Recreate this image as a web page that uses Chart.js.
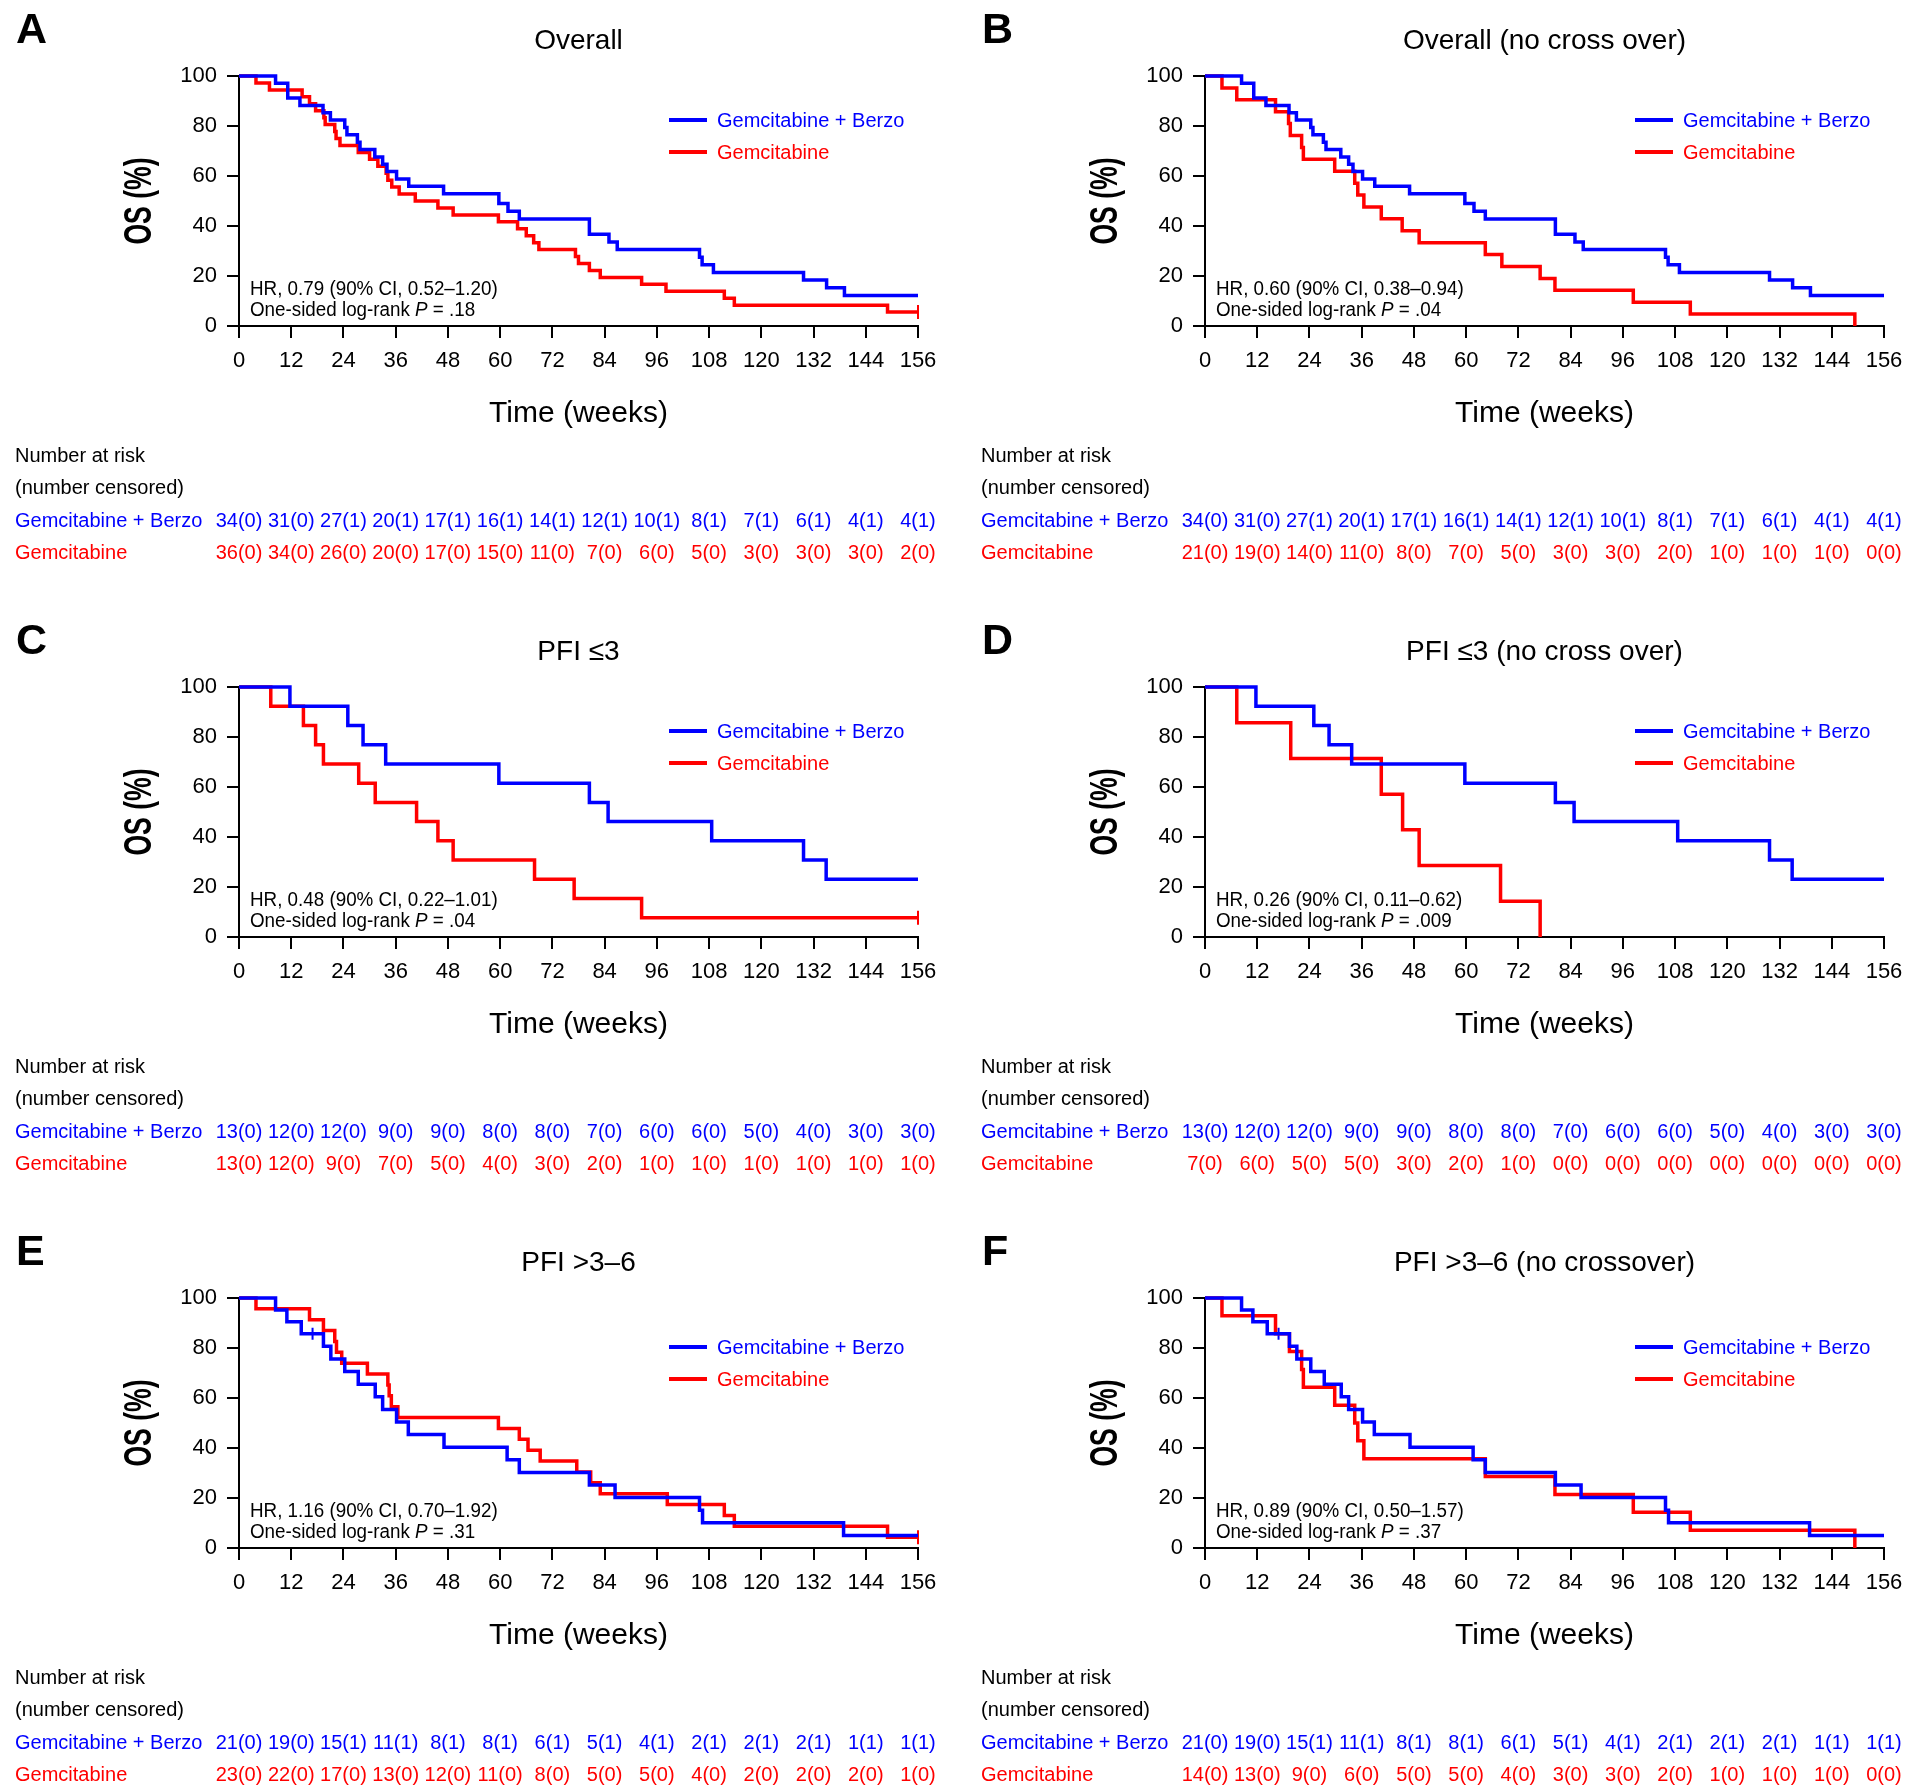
<!DOCTYPE html>
<html>
<head>
<meta charset="utf-8">
<script src="https://cdn.jsdelivr.net/npm/chart.js@4.4.1/dist/chart.umd.min.js"></script>
<style>
  html, body { margin: 0; padding: 0; background: #fff; }
  #wrap { position: relative; width: 1920px; height: 1787px; overflow: hidden; }
  #wrap canvas { position: absolute; }
</style>
</head>
<body>
<div id="wrap"></div>
<script>
const FONT = '"Liberation Sans", Arial, Helvetica, sans-serif';
const BLUE = '#0000ff';
const RED = '#ff0000';

// axis ticks
const weekTicks = [0, 12, 24, 36, 48, 60, 72, 84, 96, 108, 120, 132, 144, 156];
const osTicks = [0, 20, 40, 60, 80, 100];

// Overall, Gemcitabine + Berzo (same curve in A and B)
const allBerzoWeeks = [0, 8.4, 11.2, 14, 19.3, 21, 24.3, 24.8, 27.2, 27.8, 31.2, 33, 34, 36.2, 39, 47, 59.7, 61.8, 64.4, 80.5, 85, 86.9, 105.8, 106.4, 109, 129.7, 135, 139.1, 156];
const allBerzoOS = [100, 97.1, 91.2, 88.2, 85.3, 82.4, 79.4, 76.5, 73.5, 70.6, 67.6, 64.7, 61.8, 58.8, 55.9, 52.9, 49.0, 45.9, 42.8, 36.7, 33.6, 30.6, 27.5, 24.5, 21.4, 18.4, 15.3, 12.2, 12.2];
// Overall, Gemcitabine
const allGemWeeks = [0, 3.9, 7, 14.5, 16.2, 17.6, 19.5, 19.8, 22, 22.3, 23.2, 27.4, 30, 31.9, 33.8, 34.2, 35.1, 36.8, 40.5, 45.7, 49.2, 59.6, 64, 66, 67.7, 68.9, 77.3, 78, 80.5, 83, 92.5, 98.1, 111.5, 113.8, 149, 156];
const allGemOS = [100, 97.2, 94.4, 91.7, 88.9, 86.1, 83.3, 80.6, 77.8, 75.0, 72.2, 69.4, 66.7, 63.9, 61.1, 58.3, 55.6, 52.8, 50.0, 47.2, 44.4, 41.7, 38.9, 36.1, 33.3, 30.6, 27.8, 25.0, 22.2, 19.4, 16.7, 13.9, 11.1, 8.3, 5.6, 5.6];
// Overall (no cross over), Gemcitabine
const allNcGemWeeks = [0, 3.9, 7.3, 16.2, 19.2, 19.6, 22.2, 22.6, 29.8, 34.4, 35.1, 36.5, 40.5, 45.3, 49.2, 64.4, 68.2, 77, 80.4, 98.4, 111.5, 149.3];
const allNcGemOS = [100, 95.2, 90.5, 85.7, 81.0, 76.2, 71.4, 66.7, 61.9, 57.1, 52.4, 47.6, 42.9, 38.1, 33.3, 28.6, 23.8, 19.0, 14.3, 9.5, 4.8, 0];

// PFI <=3, Gemcitabine + Berzo (same curve in C and D)
const pfi3BerzoWeeks = [0, 11.7, 25, 28.5, 33.7, 59.7, 80.5, 84.8, 108.6, 129.7, 134.9, 156];
const pfi3BerzoOS = [100, 92.3, 84.6, 76.9, 69.2, 61.5, 53.8, 46.2, 38.5, 30.8, 23.1, 23.1];
// PFI <=3, Gemcitabine
const pfi3GemWeeks = [0, 7.3, 14.8, 17.6, 19.4, 27.5, 31.3, 40.8, 45.7, 49.2, 67.9, 77, 92.5, 156];
const pfi3GemOS = [100, 92.3, 84.6, 76.9, 69.2, 61.5, 53.8, 46.2, 38.5, 30.8, 23.1, 15.4, 7.7, 7.7];
// PFI <=3 (no cross over), Gemcitabine
const pfi3NcGemWeeks = [0, 7.3, 19.7, 40.5, 45.4, 49.2, 67.9, 77];
const pfi3NcGemOS = [100, 85.7, 71.4, 57.1, 42.9, 28.6, 14.3, 0];

// PFI >3-6, Gemcitabine + Berzo (same curve in E and F)
const pfi36BerzoWeeks = [0, 8.4, 11, 14.3, 19.4, 21.1, 24.3, 27.4, 31.3, 33, 36.2, 38.9, 47.1, 61.6, 64.4, 80.5, 86.4, 105.8, 106.5, 138.9, 156];
const pfi36BerzoOS = [100, 95.2, 90.5, 85.7, 80.7, 75.6, 70.6, 65.5, 60.5, 55.4, 50.4, 45.4, 40.3, 35.3, 30.2, 25.2, 20.2, 15.1, 10.1, 5.0, 5.0];
const pfi36BerzoCensorWeeks = [16.9];
const pfi36BerzoCensorOS = [85.7];
// PFI >3-6, Gemcitabine
const pfi36GemWeeks = [0, 3.9, 16.2, 19.4, 22, 22.4, 23.6, 29.5, 34.2, 34.5, 35, 36.5, 59.6, 64.4, 66.4, 69.2, 77.6, 80.8, 83, 98.4, 111.5, 113.8, 149, 156];
const pfi36GemOS = [100, 95.7, 91.3, 87.0, 82.6, 78.3, 73.9, 69.6, 65.2, 60.9, 56.5, 52.2, 47.8, 43.5, 39.1, 34.8, 30.4, 26.1, 21.7, 17.4, 13.0, 8.7, 4.3, 4.3];
// PFI >3-6 (no crossover), Gemcitabine
const pfi36NcGemWeeks = [0, 3.9, 16.2, 19.4, 22.2, 22.6, 29.8, 34.4, 35.1, 36.5, 64.4, 80.4, 98.4, 111.5, 149.3];
const pfi36NcGemOS = [100, 92.9, 85.7, 78.6, 71.4, 64.3, 57.1, 50.0, 42.9, 35.7, 28.6, 21.4, 14.3, 7.1, 0];

// number at risk (number censored)
const riskAllBerzo = ['34(0)', '31(0)', '27(1)', '20(1)', '17(1)', '16(1)', '14(1)', '12(1)', '10(1)', '8(1)', '7(1)', '6(1)', '4(1)', '4(1)'];
const riskAllGem = ['36(0)', '34(0)', '26(0)', '20(0)', '17(0)', '15(0)', '11(0)', '7(0)', '6(0)', '5(0)', '3(0)', '3(0)', '3(0)', '2(0)'];
const riskAllNcGem = ['21(0)', '19(0)', '14(0)', '11(0)', '8(0)', '7(0)', '5(0)', '3(0)', '3(0)', '2(0)', '1(0)', '1(0)', '1(0)', '0(0)'];
const riskPfi3Berzo = ['13(0)', '12(0)', '12(0)', '9(0)', '9(0)', '8(0)', '8(0)', '7(0)', '6(0)', '6(0)', '5(0)', '4(0)', '3(0)', '3(0)'];
const riskPfi3Gem = ['13(0)', '12(0)', '9(0)', '7(0)', '5(0)', '4(0)', '3(0)', '2(0)', '1(0)', '1(0)', '1(0)', '1(0)', '1(0)', '1(0)'];
const riskPfi3NcGem = ['7(0)', '6(0)', '5(0)', '5(0)', '3(0)', '2(0)', '1(0)', '0(0)', '0(0)', '0(0)', '0(0)', '0(0)', '0(0)', '0(0)'];
const riskPfi36Berzo = ['21(0)', '19(0)', '15(1)', '11(1)', '8(1)', '8(1)', '6(1)', '5(1)', '4(1)', '2(1)', '2(1)', '2(1)', '1(1)', '1(1)'];
const riskPfi36Gem = ['23(0)', '22(0)', '17(0)', '13(0)', '12(0)', '11(0)', '8(0)', '5(0)', '5(0)', '4(0)', '2(0)', '2(0)', '2(0)', '1(0)'];
const riskPfi36NcGem = ['14(0)', '13(0)', '9(0)', '6(0)', '5(0)', '5(0)', '4(0)', '3(0)', '3(0)', '2(0)', '1(0)', '1(0)', '1(0)', '0(0)'];

const panels = [
  { letter: 'A', title: 'Overall', hr: 'HR, 0.79 (90% CI, 0.52–1.20)', p: '.18',
    bx: allBerzoWeeks, by: allBerzoOS, gx: allGemWeeks, gy: allGemOS, gEnd: true,
    rb: riskAllBerzo, rg: riskAllGem, left: 0, top: 0, w: 966, h: 611, legY: 120 },
  { letter: 'B', title: 'Overall (no cross over)', hr: 'HR, 0.60 (90% CI, 0.38–0.94)', p: '.04',
    bx: allBerzoWeeks, by: allBerzoOS, gx: allNcGemWeeks, gy: allNcGemOS, gEnd: false,
    rb: riskAllBerzo, rg: riskAllNcGem, left: 966, top: 0, w: 954, h: 611, legY: 120 },
  { letter: 'C', title: 'PFI ≤3', hr: 'HR, 0.48 (90% CI, 0.22–1.01)', p: '.04',
    bx: pfi3BerzoWeeks, by: pfi3BerzoOS, gx: pfi3GemWeeks, gy: pfi3GemOS, gEnd: true,
    rb: riskPfi3Berzo, rg: riskPfi3Gem, left: 0, top: 611, w: 966, h: 611, legY: 120 },
  { letter: 'D', title: 'PFI ≤3 (no cross over)', hr: 'HR, 0.26 (90% CI, 0.11–0.62)', p: '.009',
    bx: pfi3BerzoWeeks, by: pfi3BerzoOS, gx: pfi3NcGemWeeks, gy: pfi3NcGemOS, gEnd: false,
    rb: riskPfi3Berzo, rg: riskPfi3NcGem, left: 966, top: 611, w: 954, h: 611, legY: 120 },
  { letter: 'E', title: 'PFI >3–6', hr: 'HR, 1.16 (90% CI, 0.70–1.92)', p: '.31',
    bx: pfi36BerzoWeeks, by: pfi36BerzoOS, gx: pfi36GemWeeks, gy: pfi36GemOS, gEnd: true, bCensor: true,
    rb: riskPfi36Berzo, rg: riskPfi36Gem, left: 0, top: 1222, w: 966, h: 565, legY: 125 },
  { letter: 'F', title: 'PFI >3–6 (no crossover)', hr: 'HR, 0.89 (90% CI, 0.50–1.57)', p: '.37',
    bx: pfi36BerzoWeeks, by: pfi36BerzoOS, gx: pfi36NcGemWeeks, gy: pfi36NcGemOS, gEnd: false, bCensor: true,
    rb: riskPfi36Berzo, rg: riskPfi36NcGem, left: 966, top: 1222, w: 954, h: 565, legY: 125 }
];

const pts = (xs, ys) => xs.map((x, i) => ({ x, y: ys[i] }));

// draw text with its cap height centred on y
function capText(ctx, text, x, y, size, style) {
  ctx.font = (style ? style + ' ' : '') + size + 'px ' + FONT;
  ctx.fillText(text, x, y + 0.358 * size);
}

// text around the plot: letter, title, y title, legend, HR note, risk table
const panelText = {
  id: 'panelText',
  afterDraw(chart, args, o) {
    const ctx = chart.ctx;
    const ca = chart.chartArea;
    const xs = chart.scales.x;
    ctx.save();
    ctx.textBaseline = 'alphabetic';

    ctx.fillStyle = '#000';
    ctx.textAlign = 'left';
    capText(ctx, o.letter, 16, 28, 43, 'bold');

    ctx.textAlign = 'center';
    capText(ctx, o.title, (ca.left + ca.right) / 2, 39, 28);

    // y axis title, tall and tight like the original
    ctx.save();
    ctx.translate(137, (ca.top + ca.bottom) / 2);
    ctx.rotate(-Math.PI / 2);
    ctx.scale(0.7, 1);
    capText(ctx, 'OS (%)', 0, 0, 38, 'bold');
    ctx.restore();

    // legend
    ctx.lineWidth = 4;
    [[BLUE, 'Gemcitabine + Berzo', o.legY], [RED, 'Gemcitabine', o.legY + 32]].forEach(([c, t, y]) => {
      ctx.strokeStyle = c;
      ctx.beginPath();
      ctx.moveTo(669, y);
      ctx.lineTo(707, y);
      ctx.stroke();
      ctx.fillStyle = c;
      ctx.textAlign = 'left';
      capText(ctx, t, 717, y, 20);
    });

    // HR and P value, slightly condensed
    ctx.fillStyle = '#000';
    ctx.save();
    ctx.translate(250, 0);
    ctx.scale(0.94, 1);
    capText(ctx, o.hr, 0, 288, 20);
    let x = 0;
    const part1 = 'One-sided log-rank ';
    capText(ctx, part1, x, 309, 20);
    x += ctx.measureText(part1).width;
    capText(ctx, 'P', x, 309, 20, 'italic');
    x += ctx.measureText('P').width;
    capText(ctx, ' = ' + o.p, x, 309, 20);
    ctx.restore();

    // risk table
    capText(ctx, 'Number at risk', 15, 455, 20);
    capText(ctx, '(number censored)', 15, 487, 20);
    ctx.fillStyle = BLUE;
    capText(ctx, 'Gemcitabine + Berzo', 15, 520, 20);
    ctx.fillStyle = RED;
    capText(ctx, 'Gemcitabine', 15, 552, 20);
    ctx.textAlign = 'center';
    xs.ticks.forEach((t, i) => {
      const px = xs.getPixelForValue(t.value);
      ctx.fillStyle = BLUE;
      capText(ctx, o.rb[i], px, 520, 20);
      ctx.fillStyle = RED;
      capText(ctx, o.rg[i], px, 552, 20);
    });
    ctx.restore();
  }
};

const wrap = document.getElementById('wrap');

panels.forEach(p => {
  const cv = document.createElement('canvas');
  cv.width = p.w;
  cv.height = p.h;
  cv.style.left = p.left + 'px';
  cv.style.top = p.top + 'px';
  cv.style.width = p.w + 'px';
  cv.style.height = p.h + 'px';
  wrap.appendChild(cv);

  const line = (label, data, color) => ({
    label, data, borderColor: color, backgroundColor: color, borderWidth: 3.5,
    stepped: 'before', pointRadius: 0, fill: false, clip: false
  });
  const datasets = [
    line('Gemcitabine + Berzo', pts(p.bx, p.by), BLUE),
    line('Gemcitabine', pts(p.gx, p.gy), RED)
  ];
  if (p.bCensor) {
    datasets.push({ label: 'censored', data: pts(pfi36BerzoCensorWeeks, pfi36BerzoCensorOS), showLine: false,
      pointStyle: 'cross', pointRadius: 6, pointBorderWidth: 2, borderColor: BLUE, backgroundColor: BLUE, clip: false });
  }
  if (p.gEnd) {
    const n = p.gx.length - 1;
    datasets.push({ label: 'censored', data: [{ x: p.gx[n], y: p.gy[n] }], showLine: false,
      pointStyle: 'line', pointRotation: 90, pointRadius: 7, pointBorderWidth: 2, borderColor: RED, backgroundColor: RED, clip: false });
  }

  new Chart(cv.getContext('2d'), {
    type: 'line',
    data: { datasets },
    options: {
      responsive: false,
      maintainAspectRatio: false,
      animation: false,
      devicePixelRatio: 1,
      layout: { padding: { left: 120, top: 76, right: p.w - 918, bottom: p.h - 432 } },
      plugins: {
        legend: { display: false },
        tooltip: { enabled: false },
        panelText: { letter: p.letter, title: p.title, hr: p.hr, p: p.p, rb: p.rb, rg: p.rg, legY: p.legY }
      },
      scales: {
        x: {
          type: 'linear', min: 0, max: 156,
          afterBuildTicks: s => { s.ticks = weekTicks.map(v => ({ value: v })); },
          afterFit: s => { s.height = 106; },
          ticks: { color: '#000', font: { family: FONT, size: 22 }, padding: 10, maxRotation: 0, autoSkip: false },
          grid: { drawOnChartArea: false, tickLength: 12, color: '#000', lineWidth: 2 },
          border: { color: '#000', width: 2 },
          title: { display: true, text: 'Time (weeks)', color: '#000', font: { family: FONT, size: 30 }, padding: 0 }
        },
        y: {
          type: 'linear', min: 0, max: 100,
          afterBuildTicks: s => { s.ticks = osTicks.map(v => ({ value: v })); },
          afterFit: s => { s.width = 119; },
          ticks: { color: '#000', font: { family: FONT, size: 22 }, padding: 10 },
          grid: { drawOnChartArea: false, tickLength: 12, color: '#000', lineWidth: 2 },
          border: { color: '#000', width: 2 }
        }
      }
    },
    plugins: [panelText]
  });
});
</script>
</body>
</html>
